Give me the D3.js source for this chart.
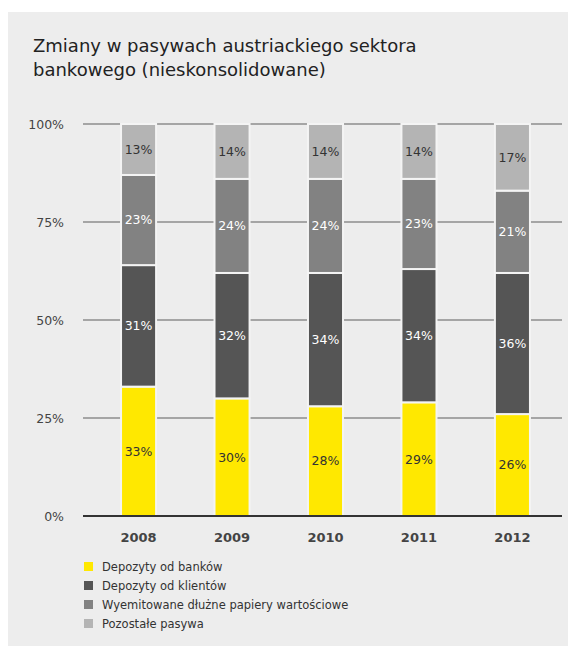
<!DOCTYPE html>
<html>
<head>
<meta charset="utf-8">
<script src="https://cdn.jsdelivr.net/npm/d3@7"></script>
<style>
  html, body { margin: 0; padding: 0; background: #ffffff; }
  svg { display: block; font-family: "DejaVu Sans", sans-serif; }
</style>
</head>
<body>
<svg id="chart" width="568" height="646"></svg>
<script>
// Struktura pasywów (w %) dla kolejnych lat
const years = ["2008", "2009", "2010", "2011", "2012"];
const seriesNames = [
  "Depozyty od banków",
  "Depozyty od klientów",
  "Wyemitowane dłużne papiery wartościowe",
  "Pozostałe pasywa"
];
const depozytyBanki   = [33, 30, 28, 29, 26];
const depozytyKlienci = [31, 32, 34, 34, 36];
const papiery         = [23, 24, 24, 23, 21];
const pozostale       = [13, 14, 14, 14, 17];
const tickValues = [0, 25, 50, 75, 100];
const tickLabels = ["0%", "25%", "50%", "75%", "100%"];

const colors = ["#ffe800", "#555555", "#828282", "#b4b4b4"];
const labelColors = ["#333333", "#ffffff", "#ffffff", "#333333"];

const svg = d3.select("#chart");

// tło panelu
svg.append("rect").attr("x", 8).attr("y", 12).attr("width", 560).attr("height", 634)
  .attr("fill", "#ededed");

// tytuł
const title = svg.append("text").attr("x", 33).attr("y", 52)
  .attr("font-size", 18).attr("fill", "#222");
title.append("tspan").attr("x", 33).attr("dy", 0).text("Zmiany w pasywach austriackiego sektora");
title.append("tspan").attr("x", 33).attr("dy", 24).text("bankowego (nieskonsolidowane)");

const x = d3.scaleBand().domain(years).range([93, 558]).paddingInner(0.625).paddingOuter(0.3);
const y = d3.scaleLinear().domain([0, 100]).range([516, 124]);

// siatka
svg.append("g").selectAll("line").data(tickValues.filter(v => v > 0)).join("line")
  .attr("x1", 83).attr("x2", 562)
  .attr("y1", d => y(d)).attr("y2", d => y(d))
  .attr("stroke", "#8c8c8c").attr("stroke-width", 1.5);

// oś Y
const yAxis = d3.axisLeft(y).tickValues(tickValues)
  .tickFormat((d, i) => tickLabels[i]).tickSize(0).tickPadding(0);
const yg = svg.append("g").attr("transform", "translate(64,0)").call(yAxis);
yg.select(".domain").remove();
yg.selectAll("text").attr("font-size", 12.5).attr("fill", "#444")
  .attr("font-family", "DejaVu Sans, sans-serif");

// dane w układzie skumulowanym
const table = years.map((yr, i) => ({
  year: yr,
  s0: depozytyBanki[i], s1: depozytyKlienci[i], s2: papiery[i], s3: pozostale[i]
}));
const stack = d3.stack().keys(["s0", "s1", "s2", "s3"]);
const layers = stack(table);

const gBars = svg.append("g");
layers.forEach((layer, k) => {
  const g = gBars.append("g");
  g.selectAll("rect").data(layer).join("rect")
    .attr("x", d => x(d.data.year))
    .attr("width", x.bandwidth())
    .attr("y", d => y(d[1]))
    .attr("height", d => y(d[0]) - y(d[1]))
    .attr("fill", colors[k])
    .attr("stroke", "#f4f4f4").attr("stroke-width", 2);
  g.selectAll("text").data(layer).join("text")
    .attr("x", d => x(d.data.year) + x.bandwidth() / 2)
    .attr("y", d => y((d[0] + d[1]) / 2))
    .attr("dy", "0.35em")
    .attr("text-anchor", "middle")
    .attr("font-size", 12.5)
    .attr("fill", labelColors[k])
    .text(d => (d[1] - d[0]) + "%");
});

// linia bazowa
svg.append("line").attr("x1", 83).attr("x2", 562).attr("y1", y(0)).attr("y2", y(0))
  .attr("stroke", "#333").attr("stroke-width", 2);

// oś X
const xAxis = d3.axisBottom(x).tickSize(0).tickPadding(0);
const xg = svg.append("g").attr("transform", `translate(0,${y(0) + 26})`).call(xAxis);
xg.select(".domain").remove();
xg.selectAll("text").attr("font-size", 13).attr("font-weight", "bold").attr("fill", "#444")
  .attr("font-family", "DejaVu Sans, sans-serif").attr("dy", "0");

// legenda
const legend = svg.append("g").attr("transform", "translate(84,562)");
const items = legend.selectAll("g").data(seriesNames).join("g")
  .attr("transform", (d, i) => `translate(0,${i * 19})`);
items.append("rect").attr("width", 9).attr("height", 9).attr("fill", (d, i) => colors[i]);
items.append("text").attr("x", 18).attr("y", 4.5).attr("dy", "0.35em")
  .attr("font-size", 11.5).attr("fill", "#333").text(d => d);
</script>
</body>
</html>
